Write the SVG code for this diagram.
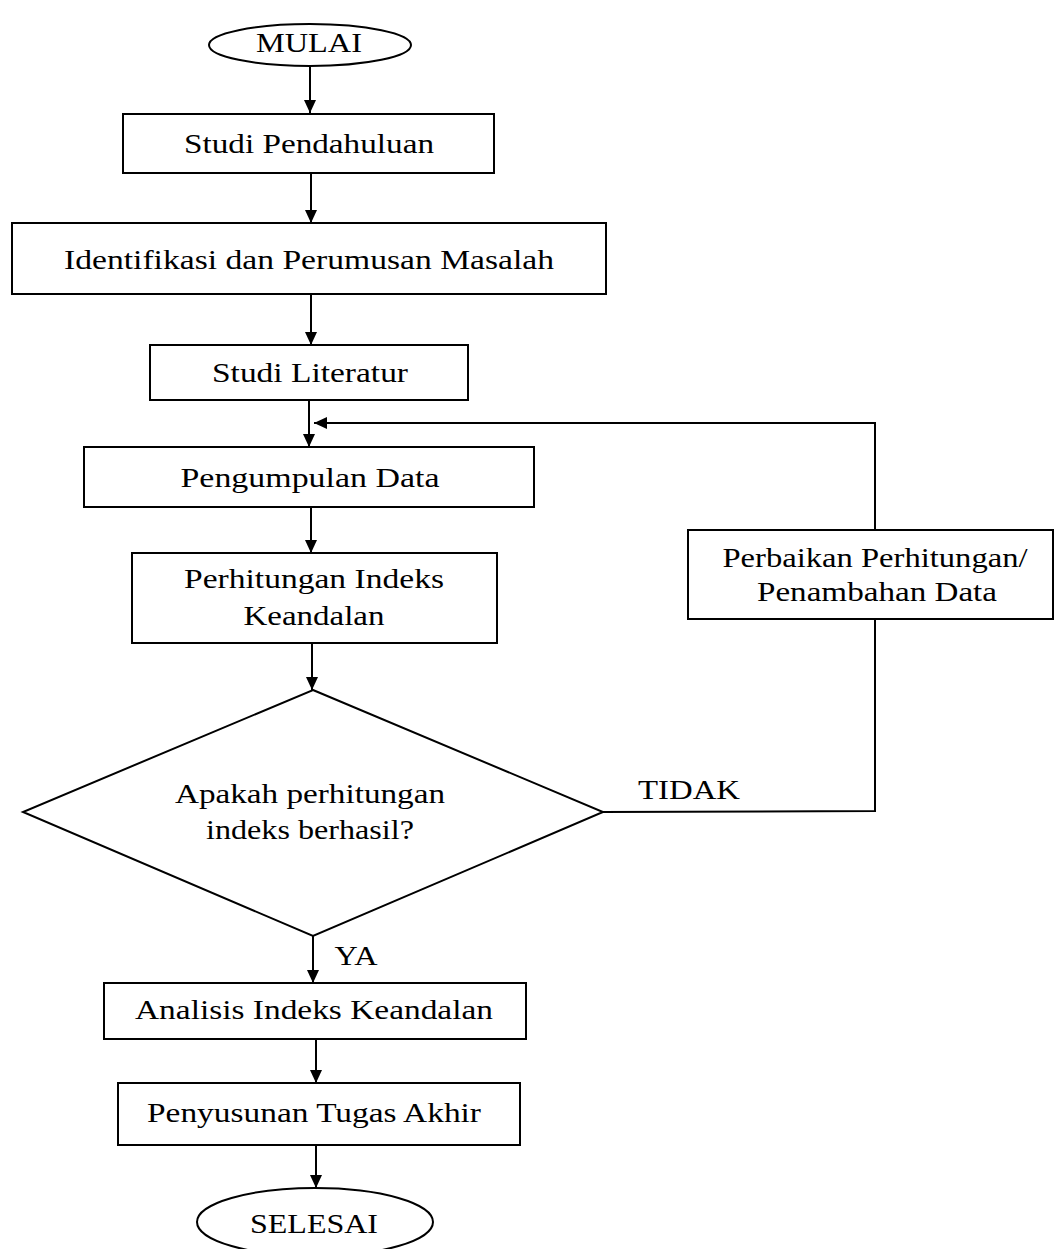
<svg xmlns="http://www.w3.org/2000/svg" width="1055" height="1249" viewBox="0 0 1055 1249">
<defs>
<style>
.shape{fill:#fff;stroke:#000;stroke-width:2}
.conn{fill:none;stroke:#000;stroke-width:2}
.t{font-family:"Liberation Serif","Times New Roman",serif;font-size:28px;fill:#000;text-anchor:middle}
</style>
<marker id="ah" markerUnits="userSpaceOnUse" markerWidth="13" markerHeight="14" refX="13" refY="6" orient="auto">
<path d="M0,0 L13,6 L0,12 Z" fill="#000"/>
</marker>
</defs>
<rect width="1055" height="1249" fill="#fff"/>
<g id="connectors">
<line class="conn" x1="310" y1="67" x2="310" y2="113" marker-end="url(#ah)"/>
<line class="conn" x1="311" y1="173" x2="311" y2="223" marker-end="url(#ah)"/>
<line class="conn" x1="311" y1="294" x2="311" y2="345" marker-end="url(#ah)"/>
<line class="conn" x1="309" y1="400" x2="309" y2="447" marker-end="url(#ah)"/>
<line class="conn" x1="311" y1="507" x2="311" y2="553" marker-end="url(#ah)"/>
<line class="conn" x1="312" y1="643" x2="312" y2="690" marker-end="url(#ah)"/>
<line class="conn" x1="313" y1="936" x2="313" y2="983" marker-end="url(#ah)"/>
<line class="conn" x1="316" y1="1039" x2="316" y2="1083" marker-end="url(#ah)"/>
<line class="conn" x1="316" y1="1145" x2="316" y2="1188" marker-end="url(#ah)"/>
<polyline class="conn" points="602,812 875,811 875,619"/>
<polyline class="conn" points="875,530 875,423 314,423" marker-end="url(#ah)"/>
<text class="t" x="689" y="799" textLength="102" lengthAdjust="spacingAndGlyphs">TIDAK</text>
<text class="t" x="356" y="965" textLength="43" lengthAdjust="spacingAndGlyphs">YA</text>
</g>
<g id="mulai">
<ellipse class="shape" cx="310" cy="45" rx="101" ry="21"/>
<text class="t" x="309" y="52" textLength="106" lengthAdjust="spacingAndGlyphs">MULAI</text>
</g>
<g id="studi-pendahuluan">
<rect class="shape" x="123" y="114" width="371" height="59"/>
<text class="t" x="309" y="153" textLength="250" lengthAdjust="spacingAndGlyphs">Studi Pendahuluan</text>
</g>
<g id="identifikasi">
<rect class="shape" x="12" y="223" width="594" height="71"/>
<text class="t" x="309" y="269" textLength="490" lengthAdjust="spacingAndGlyphs">Identifikasi dan Perumusan Masalah</text>
</g>
<g id="studi-literatur">
<rect class="shape" x="150" y="345" width="318" height="55"/>
<text class="t" x="310" y="382" textLength="196" lengthAdjust="spacingAndGlyphs">Studi Literatur</text>
</g>
<g id="pengumpulan-data">
<rect class="shape" x="84" y="447" width="450" height="60"/>
<text class="t" x="310" y="487" textLength="259" lengthAdjust="spacingAndGlyphs">Pengumpulan Data</text>
</g>
<g id="perhitungan-indeks">
<rect class="shape" x="132" y="553" width="365" height="90"/>
<text class="t" x="314" y="588" textLength="260" lengthAdjust="spacingAndGlyphs">Perhitungan Indeks</text>
<text class="t" x="314" y="625" textLength="141" lengthAdjust="spacingAndGlyphs">Keandalan</text>
</g>
<g id="keputusan">
<polygon class="shape" points="313,690 603,812 313,936 23,812"/>
<text class="t" x="310" y="803" textLength="270" lengthAdjust="spacingAndGlyphs">Apakah perhitungan</text>
<text class="t" x="310" y="839" textLength="208" lengthAdjust="spacingAndGlyphs">indeks berhasil?</text>
</g>
<g id="perbaikan">
<rect class="shape" x="688" y="530" width="365" height="89"/>
<text class="t" x="875" y="567" textLength="305" lengthAdjust="spacingAndGlyphs">Perbaikan Perhitungan/</text>
<text class="t" x="877" y="601" textLength="240" lengthAdjust="spacingAndGlyphs">Penambahan Data</text>
</g>
<g id="analisis">
<rect class="shape" x="104" y="983" width="422" height="56"/>
<text class="t" x="314" y="1019" textLength="358" lengthAdjust="spacingAndGlyphs">Analisis Indeks Keandalan</text>
</g>
<g id="penyusunan">
<rect class="shape" x="118" y="1083" width="402" height="62"/>
<text class="t" x="314" y="1122" textLength="334" lengthAdjust="spacingAndGlyphs">Penyusunan Tugas Akhir</text>
</g>
<g id="selesai">
<ellipse class="shape" cx="315" cy="1222" rx="118" ry="34"/>
<text class="t" x="314" y="1233" textLength="128" lengthAdjust="spacingAndGlyphs">SELESAI</text>
</g>
</svg>
